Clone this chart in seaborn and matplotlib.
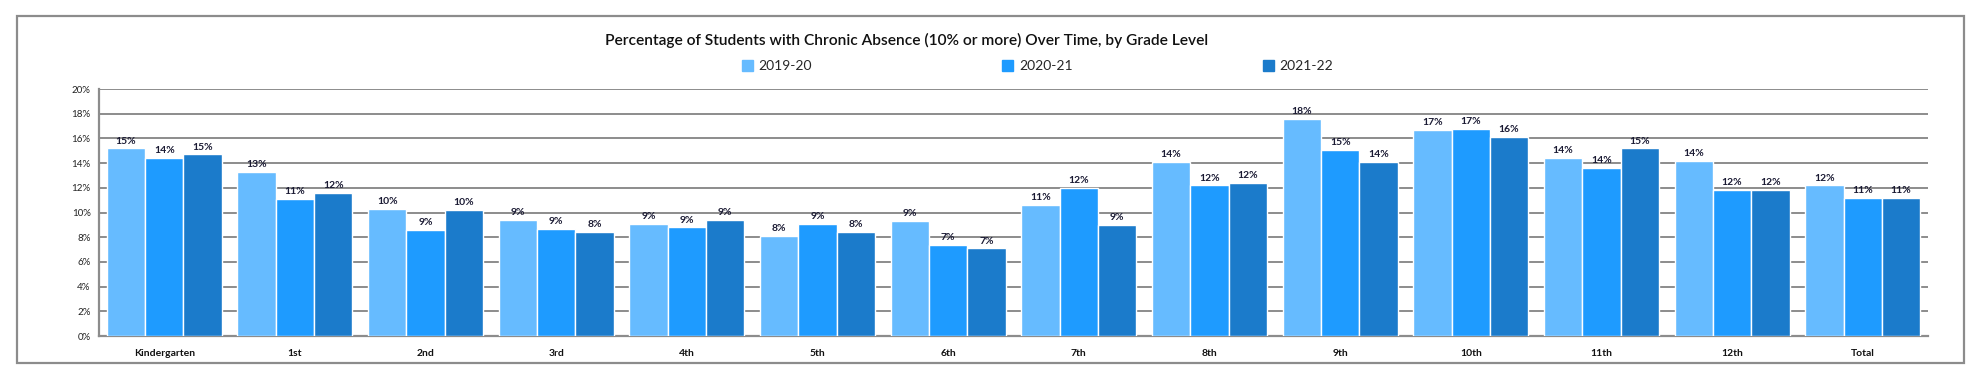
import numpy as np
import pandas as pd
import matplotlib
matplotlib.use("Agg")
import matplotlib.pyplot as plt
import matplotlib.patches as mpatches
from matplotlib.ticker import PercentFormatter, MultipleLocator, FixedLocator
import seaborn as sns

# Values (percent of students)
grades = ['Kindergarten', '1st', '2nd', '3rd', '4th', '5th', '6th',
          '7th', '8th', '9th', '10th', '11th', '12th', 'Total']
years = ['2019-20', '2020-21', '2021-22']
pct_2019 = [15.2, 13.3, 10.3, 9.4, 9.1, 8.1, 9.3, 10.6, 14.1, 17.6, 16.7, 14.4, 14.2, 12.2]
pct_2020 = [14.4, 11.1, 8.6, 8.7, 8.8, 9.1, 7.4, 12.0, 12.2, 15.1, 16.8, 13.6, 11.8, 11.2]
pct_2021 = [14.7, 11.6, 10.2, 8.4, 9.4, 8.4, 7.1, 9.0, 12.4, 14.1, 16.1, 15.2, 11.8, 11.2]
colors = ['#66BBFF', '#1E9BFF', '#1B7BCB']

df = pd.DataFrame({
    'grade': grades * 3,
    'year': np.repeat(years, len(grades)),
    'pct': pct_2019 + pct_2020 + pct_2021,
})

sns.set_style('white')
plt.rcParams['font.family'] = ['Lato', 'DejaVu Sans']

fig = plt.figure(figsize=(19.84, 3.82), dpi=100)
ax = fig.add_axes([0.0499, 0.1204, 0.9219, 0.6466])

sns.barplot(data=df, x='grade', y='pct', hue='year', palette=colors,
            width=0.88, ax=ax, saturation=1, zorder=3)
ax.get_legend().remove()

for cont in ax.containers:
    ax.bar_label(cont, fmt='{:.0f}%', padding=2, fontsize=7.5, fontweight='bold',
                 color='#1a1a33', zorder=4)

grid_c = '#8c8c8c'
ax.set_ylim(0, 20)
ax.set_xlim(-0.5, len(grades) - 0.5)
ax.yaxis.set_major_locator(MultipleLocator(2))
ax.yaxis.set_major_formatter(PercentFormatter(xmax=100, decimals=0))
ax.grid(axis='y', color=grid_c, linewidth=1.4, zorder=0)
ax.set_axisbelow(True)
for s in ['top', 'right']:
    ax.spines[s].set_visible(False)
for s in ['left', 'bottom']:
    ax.spines[s].set_color(grid_c)
    ax.spines[s].set_linewidth(1.6)

ax.set_xlabel('')
ax.set_ylabel('')
ax.xaxis.set_minor_locator(FixedLocator(np.arange(-0.5, len(grades), 1.0)))
ax.tick_params(axis='x', which='major', length=0, pad=9, labelsize=7.5, colors='#111111')
ax.tick_params(axis='x', which='minor', length=5, width=1.4, color=grid_c, direction='out')
ax.tick_params(axis='y', which='major', length=4, width=1.4, color=grid_c,
               labelsize=7, labelcolor='#222222', pad=2)
for lbl in ax.get_xticklabels():
    lbl.set_fontweight('bold')

fig.text(0.4567, 0.895, 'Percentage of Students with Chronic Absence (10% or more) Over Time, by Grade Level',
         ha='center', va='center', fontsize=11.2, fontweight='semibold', color='#111111')

handles = [mpatches.Patch(color=c, label=y) for c, y in zip(colors, years)]
fig.legend(handles=handles, loc='center', bbox_to_anchor=(0.523, 0.827), ncol=3,
           frameon=False, fontsize=10, handlelength=0.8, handleheight=0.8,
           handletextpad=0.4, columnspacing=13.7)

fig.patches.append(mpatches.Rectangle((0.0086, 0.0497), 0.9813, 0.908,
                                      transform=fig.transFigure, fill=False,
                                      edgecolor='#8c8c8c', linewidth=1.6))

fig.savefig('out.png', dpi=100)
